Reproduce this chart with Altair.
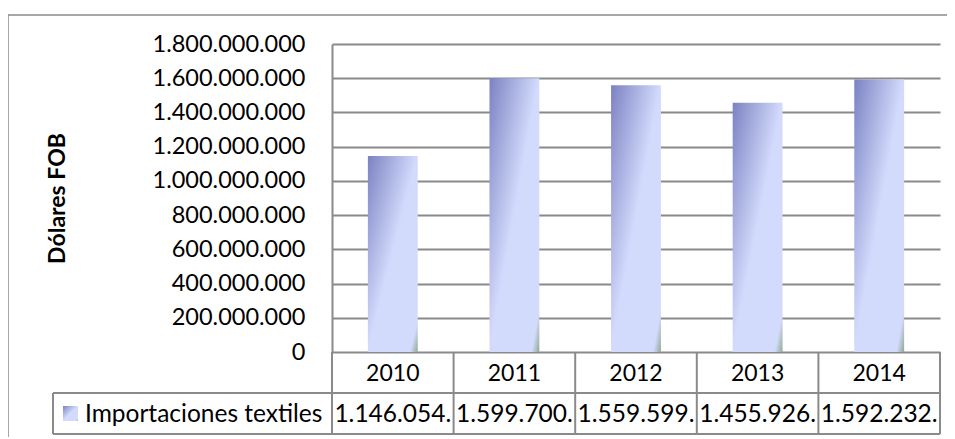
import altair as alt
import pandas as pd

years = ["2010", "2011", "2012", "2013", "2014"]
values = [1146054000, 1599700000, 1559599000, 1455926000, 1592232000]
table_labels = ["1.146.054.", "1.599.700.", "1.559.599.", "1.455.926.", "1.592.232."]
series_name = "Importaciones textiles"
y_title = "Dólares FOB"
y_ticks = [0, 200000000, 400000000, 600000000, 800000000, 1000000000,
           1200000000, 1400000000, 1600000000, 1800000000]

FONT = "Lato"
GRID = "#8a8a8a"
W, H = 608, 308
ROW1_Y, ROW2_Y, ROW_END = H, H + 41, H + 82

df = pd.DataFrame({
    "year": years,
    "value": values,
    "label": table_labels,
    "idx": list(range(len(years))),
})
df["lo"] = df["idx"] + 0.5 - 0.205
df["hi"] = df["idx"] + 0.5 + 0.205
df["mid"] = df["idx"] + 0.5

edges = pd.DataFrame({"edge": list(range(len(years) + 1))})

xs = alt.Scale(domain=[0, len(years)], nice=False, zero=False)
ys = alt.Scale(domain=[0, 1800000000], nice=False)

grad = alt.Gradient(
    gradient="linear", x1=0, y1=0, x2=1, y2=1,
    stops=[
        alt.GradientStop(color="#7b82c2", offset=0),
        alt.GradientStop(color="#d3dbfd", offset=0.5),
        alt.GradientStop(color="#d3dbfd", offset=0.92),
        alt.GradientStop(color="#8fa891", offset=1),
    ],
)

base = alt.Chart(df)

bars = base.mark_bar(color=grad).encode(
    x=alt.X("lo:Q", scale=xs, axis=None),
    x2="hi:Q",
    y=alt.Y(
        "value:Q", scale=ys,
        axis=alt.Axis(
            values=y_ticks,
            labelExpr="join(split(format(datum.value, ','), ','), '.')",
            labelFont=FONT, labelFontSize=23.5, labelColor="#000000",
            labelPadding=27, ticks=False,
            domain=True, domainColor=GRID, domainWidth=2,
            grid=True, gridColor=GRID, gridWidth=2,
            title=y_title, titleFont=FONT, titleFontSize=23,
            titleFontWeight="bold", titleColor="#000000",
            titleX=-275, titleY=H / 2, titleAngle=270,
            titleAlign="center", titleBaseline="middle",
        ),
    ),
    y2=alt.value(H),
)

# table: vertical lines at column edges
vlines = alt.Chart(edges).mark_rule(color=GRID, strokeWidth=2).encode(
    x=alt.X("edge:Q", scale=xs, axis=None),
    y=alt.value(ROW1_Y),
    y2=alt.value(ROW_END),
)
left_line = alt.Chart(edges).mark_rule(color=GRID, strokeWidth=2).encode(
    x=alt.value(-279), y=alt.value(ROW2_Y), y2=alt.value(ROW_END),
)
hlines = alt.Chart(pd.DataFrame({"r": [ROW2_Y, ROW_END]})).mark_rule(
    color=GRID, strokeWidth=2
).encode(
    x=alt.value(-279), x2=alt.value(W), y=alt.Y("r:Q", scale=None),
)

year_text = base.mark_text(font=FONT, fontSize=23, color="#000000", baseline="middle").encode(
    x=alt.X("mid:Q", scale=xs, axis=None),
    y=alt.value((ROW1_Y + ROW2_Y) / 2 + 1),
    text="year:N",
)
val_text = base.mark_text(font=FONT, fontSize=24.5, color="#000000", baseline="middle").encode(
    x=alt.X("mid:Q", scale=xs, axis=None),
    y=alt.value((ROW2_Y + ROW_END) / 2 + 1),
    text="label:N",
)

legend_df = pd.DataFrame({"name": [series_name]})
swatch = alt.Chart(legend_df).mark_rect(color=grad).encode(
    x=alt.value(-269), x2=alt.value(-254),
    y=alt.value(ROW2_Y + 13), y2=alt.value(ROW2_Y + 28),
)
legend_text = alt.Chart(legend_df).mark_text(
    font=FONT, fontSize=24.5, color="#000000", align="left", baseline="middle"
).encode(
    x=alt.value(-247), y=alt.value((ROW2_Y + ROW_END) / 2 + 1), text="name:N",
)

frame_top = alt.Chart(legend_df).mark_rule(color="#8a8a8a", strokeWidth=1.5).encode(
    x=alt.value(-324), x2=alt.value(W + 30), y=alt.value(-29),
)
frame_left = alt.Chart(legend_df).mark_rule(color="#8a8a8a", strokeWidth=1.5).encode(
    x=alt.value(-324), y=alt.value(-29), y2=alt.value(H + 120),
)

chart = alt.layer(
    frame_top, frame_left, bars, vlines, left_line, hlines,
    year_text, val_text, swatch, legend_text
).properties(
    width=W, height=H,
    autosize=alt.AutoSizeParams(type="none"),
    padding={"left": 324, "top": 36, "right": 7, "bottom": 85},
    background="white",
).configure_view(stroke=None)

chart.save("out.html", embed_options={"renderer": "svg", "actions": False})
